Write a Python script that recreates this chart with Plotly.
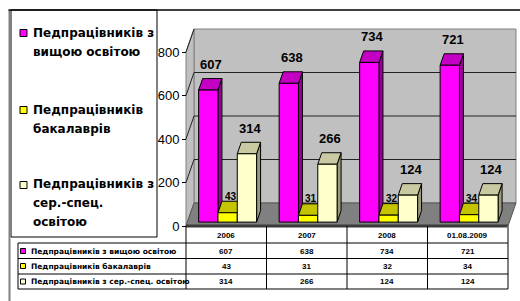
import plotly.graph_objects as go

# ---------------- data ----------------
categories = ["2006", "2007", "2008", "01.08.2009"]
series_names = [
    "Педпрацівників з вищою освітою",
    "Педпрацівників бакалаврів",
    "Педпрацівників з сер.-спец. освітою",
]
higher_ed = [607, 638, 734, 721]
bachelors = [43, 31, 32, 34]
secondary_spec = [314, 266, 124, 124]
y_ticks = [0, 200, 400, 600, 800]
legend_lines = [
    ["Педпрацівників з", "вищою освітою"],
    ["Педпрацівників", "бакалаврів"],
    ["Педпрацівників з", "сер.-спец.", "освітою"],
]

# ---------------- style / geometry ----------------
W, H = 520, 301
XK = 80.5          # px per category unit (front plane)
X_FRONT0 = 186     # px of category -0.5
YK = 0.2175        # px per value unit
Y_ZERO = 226       # px of value 0 (front plane)
XR = [-0.62, 3.64]
YR = [-30, 950]
DXW = 8 / XK       # wall depth in x units
DYW = 23 / YK      # wall depth in y units
F0, F1 = 0.17, 0.67
BW = 0.24
GROUP_OFF = -0.36
WALL_TOP = 800

front_cols = ["#FF00FF", "#FFFF00", "#FFFFCC"]
top_cols = ["#C400C4", "#C4C400", "#CACAA2"]
side_cols = ["#950095", "#959500", "#9A9A7C"]
label_sizes = [13, 10, 13]
label_shift = [14, 5, 14]

FONT_REG = "Liberation Sans, Arial, sans-serif"
FONT_WIDE = "DejaVu Sans, sans-serif"


def py(px):
    return (H - px) / H


def px_(x):
    return x / W


x_dom = [px_(X_FRONT0 + (XR[0] + 0.5) * XK), px_(X_FRONT0 + (XR[1] + 0.5) * XK)]
y_dom = [py(Y_ZERO - YR[0] * YK), py(Y_ZERO - YR[1] * YK)]


def path(pts):
    return "M " + " L ".join(f"{x},{y}" for x, y in pts) + " Z"


shapes = []
# walls
back = [(-0.5 + DXW, DYW), (3.5 + DXW, DYW), (3.5 + DXW, WALL_TOP + DYW), (-0.5 + DXW, WALL_TOP + DYW)]
left = [(-0.5, 0), (-0.5 + DXW, DYW), (-0.5 + DXW, WALL_TOP + DYW), (-0.5, WALL_TOP)]
floor = [(-0.5, 0), (3.5, 0), (3.5 + DXW, DYW), (-0.5 + DXW, DYW)]
shapes.append(dict(type="path", path=path(back), xref="x", yref="y", fillcolor="#C0C0C0",
                   line=dict(color="#808080", width=1), layer="below"))
shapes.append(dict(type="path", path=path(left), xref="x", yref="y", fillcolor="#C0C0C0",
                   line=dict(color="#808080", width=1), layer="below"))
shapes.append(dict(type="path", path=path(floor), xref="x", yref="y", fillcolor="#808080",
                   line=dict(color="#555555", width=1), layer="below"))
for v in y_ticks[1:]:
    if v < WALL_TOP:
        shapes.append(dict(type="line", xref="x", yref="y", x0=-0.5 + DXW, x1=3.5 + DXW,
                           y0=v + DYW, y1=v + DYW, line=dict(color="#222222", width=1), layer="below"))
    shapes.append(dict(type="line", xref="x", yref="y", x0=-0.5, x1=-0.5 + DXW,
                       y0=v, y1=v + DYW, line=dict(color="#222222", width=1), layer="below"))
# floor front edge
shapes.append(dict(type="line", xref="x", yref="y", x0=-0.5, x1=3.5, y0=0, y1=0,
                   line=dict(color="#3a3a3a", width=3)))

fig = go.Figure()

series_vals = [higher_ed, bachelors, secondary_spec]
d = (F1 - F0) * DXW
e = (F1 - F0) * DYW
annotations = []
for s, vals in enumerate(series_vals):
    faces = {"side": ([], []), "top": ([], []), "front": ([], [])}
    for i, v in enumerate(vals):
        xl = i + GROUP_OFF + s * BW + F0 * DXW
        xr = xl + BW
        b = F0 * DYW
        t = v + b
        polys = {
            "front": [(xl, b), (xr, b), (xr, t), (xl, t), (xl, b)],
            "top": [(xl, t), (xr, t), (xr + d, t + e), (xl + d, t + e), (xl, t)],
            "side": [(xr, b), (xr + d, b + e), (xr + d, t + e), (xr, t), (xr, b)],
        }
        for k, pts in polys.items():
            faces[k][0].extend([p[0] for p in pts] + [None])
            faces[k][1].extend([p[1] for p in pts] + [None])
        annotations.append(dict(
            x=(xl + xr) / 2 + d * 0.75, y=t + e, xref="x", yref="y",
            text=f"<b>{v}</b>", showarrow=False, yanchor="middle", xanchor="center",
            yshift=label_shift[s],
            font=dict(family=FONT_REG, size=label_sizes[s], color="black")))
    cols = {"side": side_cols[s], "top": top_cols[s], "front": front_cols[s]}
    for k in ["side", "top", "front"]:
        fig.add_trace(go.Scatter(
            x=faces[k][0], y=faces[k][1], mode="lines", fill="toself",
            fillcolor=cols[k], line=dict(color="black", width=1),
            hoverinfo="skip", showlegend=False, name=series_names[s]))

# ---------------- legend box ----------------
shapes.append(dict(type="rect", xref="paper", yref="paper", x0=px_(11), x1=px_(157),
                   y0=py(237), y1=py(10), line=dict(color="black", width=1)))
leg_y = [[33, 52], [110, 129], [184, 203, 222]]
leg_marker_y = [33, 110, 185]
for s in range(3):
    shapes.append(dict(type="rect", xref="paper", yref="paper",
                       x0=px_(20), x1=px_(27), y0=py(leg_marker_y[s] + 3.5), y1=py(leg_marker_y[s] - 3.5),
                       fillcolor=front_cols[s], line=dict(color="black", width=1)))
    for line_txt, yy in zip(legend_lines[s], leg_y[s]):
        annotations.append(dict(x=px_(31), y=py(yy), xref="paper", yref="paper",
                                text=f"<b>{line_txt}</b>", showarrow=False,
                                xanchor="left", yanchor="middle",
                                font=dict(family=FONT_WIDE, size=12, color="black")))

# ---------------- data table ----------------
row_lines = [243, 258.5, 274, 289]
text_rows = [251, 266, 281.5]
for k in range(len(categories) + 1):
    shapes.append(dict(type="line", xref="x", yref="paper", x0=k - 0.5, x1=k - 0.5,
                       y0=py(226), y1=py(289),
                       line=dict(color="#808080" if k == len(categories) else "black",
                                 width=2 if k == len(categories) else 1)))
for r in row_lines:
    shapes.append(dict(type="line", xref="paper", yref="paper", x0=px_(18), x1=px_(508),
                       y0=py(r), y1=py(r), line=dict(color="black", width=1)))
shapes.append(dict(type="line", xref="paper", yref="paper", x0=px_(18), x1=px_(18),
                   y0=py(243), y1=py(289), line=dict(color="black", width=1)))
TFONT = dict(family=FONT_REG, size=8, color="black")
LFONT = dict(family=FONT_WIDE, size=7.5, color="black")
for i, c in enumerate(categories):
    annotations.append(dict(x=i, y=py(235), xref="x", yref="paper", text=f"<b>{c}</b>",
                            showarrow=False, font=TFONT, yanchor="middle"))
for s, vals in enumerate(series_vals):
    yy = text_rows[s]
    shapes.append(dict(type="rect", xref="paper", yref="paper",
                       x0=px_(20.5), x1=px_(25.5), y0=py(yy + 2.5), y1=py(yy - 2.5),
                       fillcolor=front_cols[s], line=dict(color="black", width=1)))
    annotations.append(dict(x=px_(28.5), y=py(yy), xref="paper", yref="paper",
                            text=f"<b>{series_names[s]}</b>", showarrow=False,
                            xanchor="left", yanchor="middle", font=LFONT))
    for i, v in enumerate(vals):
        annotations.append(dict(x=i, y=py(yy), xref="x", yref="paper", text=f"<b>{v}</b>",
                                showarrow=False, font=TFONT, yanchor="middle"))

# ---------------- outer frame ----------------
shapes.append(dict(type="line", xref="paper", yref="paper", x0=px_(9.5), x1=px_(9.5),
                   y0=0, y1=py(10), line=dict(color="#808080", width=2)))
shapes.append(dict(type="line", xref="paper", yref="paper", x0=px_(8.5), x1=1,
                   y0=py(10), y1=py(10), line=dict(color="black", width=1.5)))

fig.update_layout(
    width=W, height=H, autosize=False,
    margin=dict(l=0, r=0, t=0, b=0),
    paper_bgcolor="white", plot_bgcolor="rgba(0,0,0,0)",
    showlegend=False,
    xaxis=dict(domain=x_dom, range=XR, visible=False, fixedrange=True),
    yaxis=dict(domain=y_dom, range=YR, anchor="free", position=px_(X_FRONT0),
               tickvals=y_ticks, ticktext=[str(t) for t in y_ticks],
               ticks="outside", ticklen=4, tickwidth=1, tickcolor="black",
               showgrid=False, zeroline=False, showline=False,
               tickfont=dict(family=FONT_REG, size=13, color="black"), fixedrange=True),
    shapes=shapes,
    annotations=annotations,
)

fig.write_html("out.html", config={"displayModeBar": False},
               post_script="document.body.style.margin='0';document.body.style.overflow='hidden';")
